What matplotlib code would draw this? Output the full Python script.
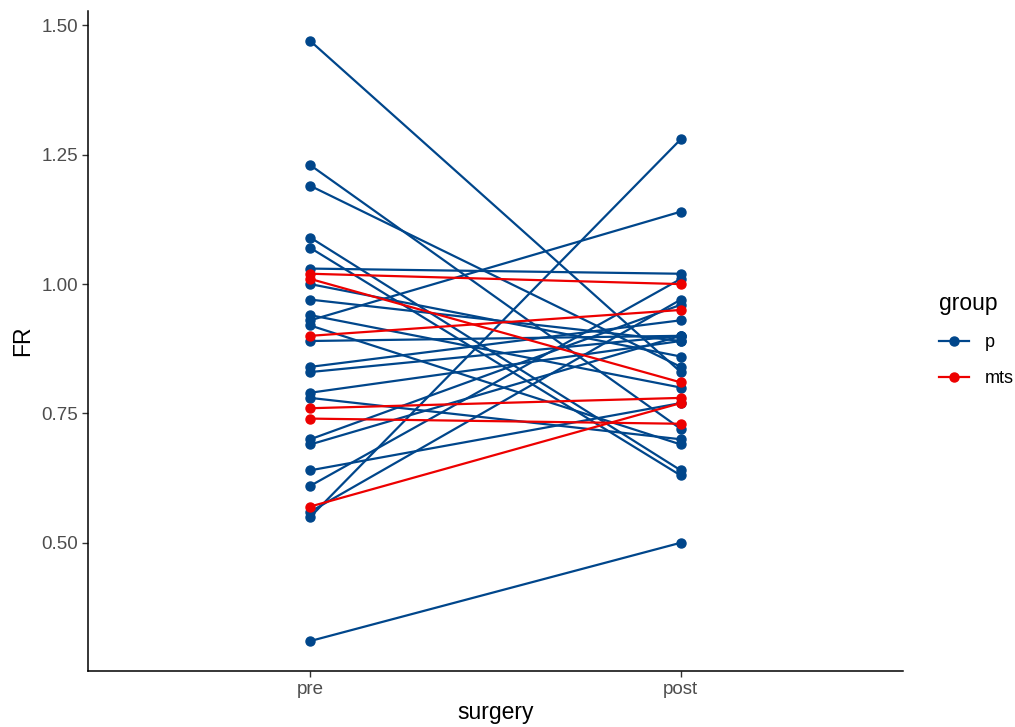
import numpy as np
import matplotlib
matplotlib.use('Agg')
import matplotlib.pyplot as plt
from matplotlib.lines import Line2D

plt.rcParams['font.family'] = ['Liberation Sans', 'DejaVu Sans']

# paired FR values, pre -> post surgery
p_pre = [1.47, 1.23, 1.19, 1.09, 1.07, 1.03, 1.00, 0.97, 0.94, 0.93, 0.92, 0.89,
         0.84, 0.83, 0.79, 0.78, 0.70, 0.69, 0.64, 0.61, 0.56, 0.55, 0.31]
p_post = [0.83, 0.72, 0.84, 0.64, 0.63, 1.02, 0.86, 0.89, 0.80, 1.14, 0.69, 0.90,
          0.93, 0.90, 0.89, 0.70, 0.96, 0.90, 0.77, 1.01, 0.97, 1.28, 0.50]
mts_pre = [1.02, 1.01, 0.90, 0.76, 0.74, 0.57]
mts_post = [1.00, 0.81, 0.95, 0.78, 0.73, 0.77]

stages = ['pre', 'post']
groups = ['p', 'mts']
colors = {'p': '#00468B', 'mts': '#ED0000'}

fig = plt.figure(figsize=(10.15, 7.27), dpi=100)
ax = fig.add_axes([0.0867, 0.0770, 0.8030, 0.9079])

xpos = np.arange(1, len(stages) + 1)
for g, pre, post in [('p', p_pre, p_post), ('mts', mts_pre, mts_post)]:
    for a, b in zip(pre, post):
        ax.plot(xpos, [a, b], color=colors[g], lw=1.6, marker='o', ms=6.5,
                solid_capstyle='butt', zorder=2)

ax.set_xlim(0.4, 2.6)
allv = p_pre + p_post + mts_pre + mts_post
lo, hi = min(allv), max(allv)
pad = (hi - lo) * 0.05
ax.set_ylim(lo - pad, hi + pad)

ax.set_xticks(xpos)
ax.set_xticklabels(stages)
ax.set_yticks([0.50, 0.75, 1.00, 1.25, 1.50])
ax.set_yticklabels(['0.50', '0.75', '1.00', '1.25', '1.50'])

for s in ['top', 'right']:
    ax.spines[s].set_visible(False)
for s in ['left', 'bottom']:
    ax.spines[s].set_linewidth(1.1)
    ax.spines[s].set_color('black')

ax.tick_params(axis='both', length=4, width=1, color='#333333',
               labelsize=13.5, labelcolor='#4D4D4D', pad=3)

ax.set_xlabel('surgery', fontsize=16.5, labelpad=2)
ax.set_ylabel('FR', fontsize=16.5, labelpad=5)

handles = [Line2D([0], [0], color=colors[g], lw=1.6, marker='o', ms=6.5) for g in groups]
leg = fig.legend(handles, groups, title='group', loc='center left',
                 bbox_to_anchor=(0.925, 0.533), frameon=False, fontsize=13,
                 title_fontsize=16.5, handlelength=1.65, labelspacing=1.05,
                 handletextpad=0.9, borderpad=0, borderaxespad=0)
leg._legend_box.align = 'left'

fig.savefig('out.png', dpi=100)
plt.close(fig)
